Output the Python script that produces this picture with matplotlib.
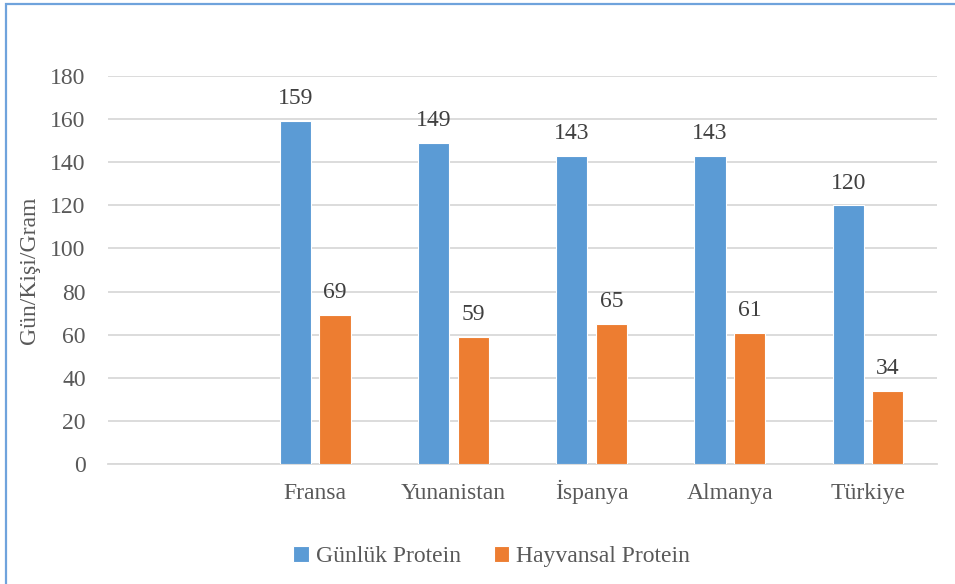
import matplotlib.pyplot as plt
from matplotlib.patches import Rectangle
import numpy as np

plt.rcParams['font.family'] = ['Liberation Serif', 'DejaVu Serif']

# Daily protein supply per person (grams)
countries = ['', 'Fransa', 'Yunanistan', 'İspanya', 'Almanya', 'Türkiye']
gunluk = [None, 159, 149, 143, 143, 120]
hayvansal = [None, 69, 59, 65, 61, 34]
series_names = ['Günlük Protein', 'Hayvansal Protein']
yticks = [0, 20, 40, 60, 80, 100, 120, 140, 160, 180]

blue = '#5B9BD5'
orange = '#ED7D31'
grid_col = '#D9D9D9'
text_col = '#595959'
label_col = '#404040'
fs = 17

fig = plt.figure(figsize=(9.55, 5.84), dpi=100)
ax = fig.add_axes([108 / 955, 1 - 464 / 584, (937 - 108) / 955, (464 - 76) / 584])

x = np.arange(len(countries))
width = 0.225
offset = 0.143

idx = [i for i, v in enumerate(gunluk) if v is not None]
g_vals = [gunluk[i] for i in idx]
h_vals = [hayvansal[i] for i in idx]
xi = np.array(idx)

b1 = ax.bar(xi - offset, g_vals, width, color=blue, edgecolor='white', linewidth=0.8,
            label=series_names[0], zorder=3)
b2 = ax.bar(xi + offset, h_vals, width, color=orange, edgecolor='white', linewidth=0.8,
            label=series_names[1], zorder=3)

for bars, vals in ((b1, g_vals), (b2, h_vals)):
    for rect, v in zip(bars, vals):
        ax.annotate(str(v), (rect.get_x() + rect.get_width() / 2, v),
                    xytext=(0, 8.5), textcoords='offset points',
                    ha='center', va='bottom', fontsize=fs, color=label_col)

ax.set_xlim(-0.5, len(countries) - 0.5)
ax.set_ylim(0, 180)
ax.set_yticks(yticks)
ax.set_xticks(x)
ax.set_xticklabels(countries)
ax.tick_params(axis='both', length=0, labelsize=fs, colors=text_col)
ax.tick_params(axis='y', pad=16)
ax.tick_params(axis='x', pad=25)
for lbl in ax.get_xticklabels():
    lbl.set_verticalalignment('baseline')

ax.yaxis.grid(True, color=grid_col, linewidth=1.3, zorder=0)
ax.set_axisbelow(True)
for s in ('top', 'right', 'left'):
    ax.spines[s].set_visible(False)
ax.spines['bottom'].set_color(grid_col)
ax.spines['bottom'].set_linewidth(1.3)

ax.set_ylabel('Gün/Kişi/Gram', fontsize=fs, color=text_col)
ax.yaxis.set_label_coords(-0.082, 0.5)

leg = fig.legend(loc='center', bbox_to_anchor=(0.515, 0.047), ncol=2, frameon=False,
                 fontsize=fs, handlelength=0.65, handleheight=0.65,
                 handletextpad=0.3, columnspacing=1.4)
for t in leg.get_texts():
    t.set_color(text_col)

# outer chart frame
fig.patches.append(Rectangle((5.5 / 955, -0.05), 1.1, 0.05 + 1 - 4 / 584,
                             transform=fig.transFigure, fill=False,
                             edgecolor='#6FA3DC', linewidth=1.6))

fig.savefig('out.png', dpi=100)
